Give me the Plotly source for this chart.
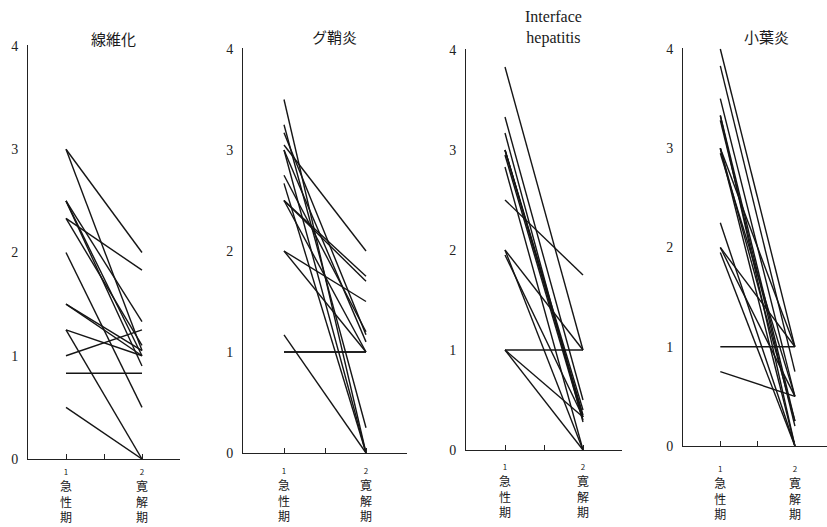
import plotly.graph_objects as go

# ---- data ----
titles = ["線維化", "グ鞘炎", "Interface<br>hepatitis", "小葉炎"]
tick_labels = ["<span style='font-size:8px'>1</span><br>急<br>性<br>期", "",
               "<span style='font-size:8px'>2</span><br>寛<br>解<br>期", ""]
tick_positions = [1, 1.5, 2, 2.5]

fib_acute = [3.0, 3.0, 2.5, 2.5, 2.5, 2.33, 2.33, 2.0, 1.5, 1.5, 1.25, 1.25, 1.0, 0.83, 0.5]
fib_remis = [2.0, 1.05, 1.33, 1.0, 0.9, 1.83, 1.1, 0.5, 1.0, 1.05, 0.0, 1.0, 1.25, 0.83, 0.0]

gs_acute = [3.5, 3.25, 3.17, 3.05, 3.0, 3.0, 2.75, 2.67, 2.5, 2.5, 2.5, 2.0, 2.0, 1.17, 1.0, 1.0]
gs_remis = [0.0, 0.25, 1.17, 2.0, 1.1, 0.0, 1.2, 0.0, 1.75, 1.7, 1.0, 1.5, 1.0, 0.0, 1.0, 1.0]

ih_acute = [3.83, 3.33, 3.17, 3.0, 3.0, 3.0, 2.95, 2.83, 2.5, 2.0, 2.0, 1.95, 1.0, 1.0, 1.0]
ih_remis = [1.0, 0.5, 0.28, 0.35, 0.33, 0.4, 0.3, 0.0, 1.75, 1.0, 0.0, 0.33, 1.0, 0.33, 0.0]

lb_acute = [4.0, 3.83, 3.5, 3.33, 3.33, 3.28, 3.0, 3.0, 3.0, 2.95, 2.25, 2.0, 2.0, 1.95, 1.0, 0.75]
lb_remis = [1.0, 0.75, 0.5, 0.25, 0.0, 0.2, 0.0, 0.25, 1.0, 0.5, 0.0, 1.0, 0.5, 0.0, 1.0, 0.5]

panels = [(fib_acute, fib_remis), (gs_acute, gs_remis), (ih_acute, ih_remis), (lb_acute, lb_remis)]

W, H = 827, 527
# pixel layout of each panel
x_dom_px = [(28, 180), (243, 407), (466, 622), (683, 827)]
x_ranges = [[0.5, 2.5], [0.5, 2.5], [0.5, 2.5], [0.5, 2.43]]
y_px = [(459, 45), (453, 48), (450, 49), (446, 48)]  # (y=0 pixel, y=4 pixel)
title_y_px = [38, 36, 27, 37]
standoffs = [1, 6, 5, 11]

fig = go.Figure()
serif = "Liberation Serif"
cjk = "Noto Sans CJK JP"

for i, (a, r) in enumerate(panels):
    xs, ys = [], []
    for s, e in zip(a, r):
        xs += [1, 2, None]
        ys += [s, e, None]
    sfx = "" if i == 0 else str(i + 1)
    fig.add_trace(go.Scatter(x=xs, y=ys, mode="lines",
                             line=dict(color="#151515", width=1.4),
                             xaxis="x" + sfx, yaxis="y" + sfx,
                             showlegend=False, hoverinfo="skip"))
    x0, x1 = x_dom_px[i]
    yb, yt = y_px[i]
    fig.layout["xaxis" + sfx] = dict(
        domain=[x0 / W, x1 / W], range=x_ranges[i], anchor="y" + sfx, automargin=False,
        showgrid=False, zeroline=False, showline=True, linecolor="#222", linewidth=1,
        tickmode="array", tickvals=tick_positions, ticktext=tick_labels,
        ticks="inside", ticklen=5, tickcolor="#222", ticklabelstandoff=standoffs[i],
        tickfont=dict(family=cjk, size=12, color="#1a1a1a"),
    )
    fig.layout["yaxis" + sfx] = dict(
        domain=[(H - yb) / H, (H - yt) / H], range=[0, 4.01], anchor="x" + sfx, automargin=False,
        showgrid=False, zeroline=False, showline=True, linecolor="#222", linewidth=1,
        tickmode="array", tickvals=[0, 1, 2, 3, 4],
        ticks="", ticklabelstandoff=6,
        tickfont=dict(family=serif, size=14, color="#222"),
    )
    fig.add_annotation(
        text=titles[i], x=1.62, xref="x" + sfx, y=(H - title_y_px[i]) / H, yref="paper",
        showarrow=False, xanchor="center", yanchor="middle",
        font=dict(family=cjk if i != 2 else serif, size=15 if i != 2 else 16, color="#1a1a1a"),
    )

fig.update_layout(
    width=W, height=H, margin=dict(l=0, r=0, t=0, b=0),
    paper_bgcolor="white", plot_bgcolor="white",
)
fig.write_html("out.html")
